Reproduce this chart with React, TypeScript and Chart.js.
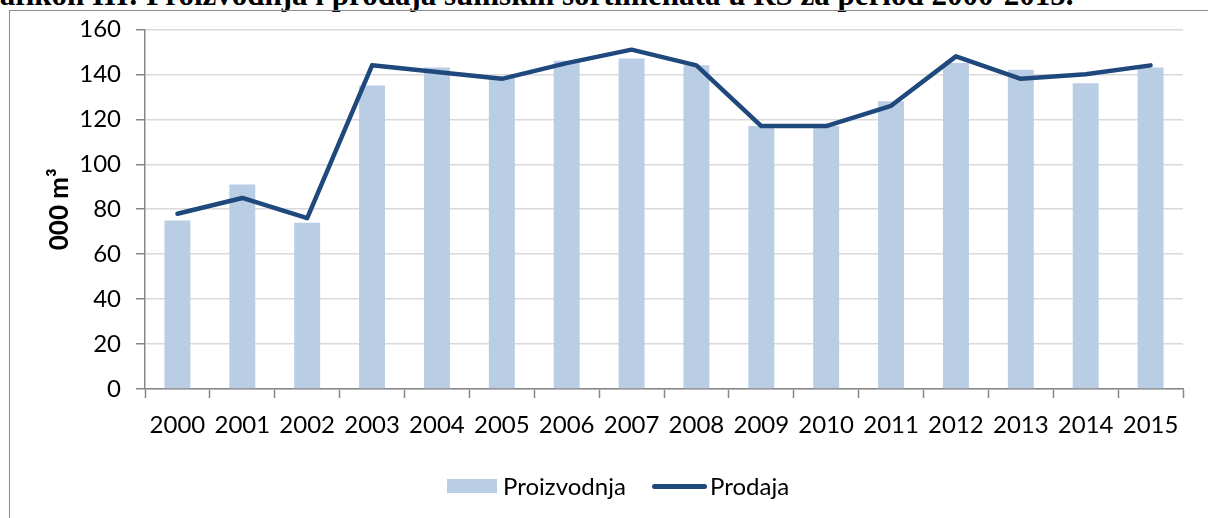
import React, { useEffect, useRef } from "react";
import { Chart, registerables } from "chart.js";

Chart.register(...registerables);

const categories = ["2000", "2001", "2002", "2003", "2004", "2005", "2006", "2007", "2008", "2009", "2010", "2011", "2012", "2013", "2014", "2015"];
const proizvodnja = [75, 91, 74, 135, 143, 139, 146, 147, 144, 117, 117, 128, 145, 142, 136, 143];
const prodaja = [78, 85, 76, 144, 141, 138, 145, 151, 144, 117, 117, 126, 148, 138, 140, 144];
const yTicks = [0, 20, 40, 60, 80, 100, 120, 140, 160];
const seriesNames = ["Proizvodnja", "Prodaja"];

const TITLE = "Grafikon III: Proizvodnja i prodaja šumskih sortimenata u RS za period 2000-2015.";
const BAR_COLOR = "#B9CDE5";
const LINE_COLOR = "#1F497D";
const AXIS_COLOR = "#868686";
const GRID_COLOR = "#d9d9d9";
const FONT = "Lato, 'Open Sans', sans-serif";

export default function App() {
  const ref = useRef<HTMLCanvasElement | null>(null);

  useEffect(() => {
    if (!ref.current) return;
    const chart = new Chart(ref.current, {
      type: "bar",
      data: {
        labels: categories,
        datasets: [
          {
            type: "bar",
            label: seriesNames[0],
            data: proizvodnja,
            backgroundColor: BAR_COLOR,
            borderWidth: 0,
            barPercentage: 0.4,
            categoryPercentage: 1,
            order: 2,
          } as any,
          {
            type: "line",
            label: seriesNames[1],
            data: prodaja,
            borderColor: LINE_COLOR,
            backgroundColor: LINE_COLOR,
            borderWidth: 4.5,
            pointRadius: 0,
            pointHoverRadius: 0,
            tension: 0,
            borderCapStyle: "round",
            borderJoinStyle: "round",
            order: 1,
          } as any,
        ],
      },
      options: {
        animation: false,
        responsive: false,
        maintainAspectRatio: false,
        layout: { padding: { left: 28, right: 25, top: 20, bottom: 69 } },
        plugins: {
          tooltip: { enabled: false },
          title: { display: false },
          legend: { display: false },
        },
        scales: {
          x: {
            offset: true,
            grid: {
              display: true,
              offset: true,
              drawOnChartArea: false,
              drawTicks: true,
              tickLength: 9,
              tickColor: AXIS_COLOR,
              tickWidth: 1.5,
            },
            border: { display: true, color: AXIS_COLOR, width: 1.5 },
            ticks: {
              color: "#000",
              padding: 13,
              maxRotation: 0,
              autoSkip: false,
              font: { family: FONT, size: 24 },
            },
            afterFit: (s: any) => {
              s.height = 60;
            },
          },
          y: {
            min: 0,
            max: 160,
            afterBuildTicks: (s: any) => {
              s.ticks = yTicks.map((v) => ({ value: v }));
            },
            grid: {
              color: GRID_COLOR,
              lineWidth: 1.5,
              drawTicks: true,
              tickLength: 9,
              tickColor: AXIS_COLOR,
              tickWidth: 1.5,
            },
            border: { display: true, color: AXIS_COLOR, width: 1.5 },
            ticks: {
              color: "#000",
              padding: 15,
              font: { family: FONT, size: 24 },
            },
            title: {
              display: true,
              text: "000 m³",
              color: "#000",
              padding: { top: 16, bottom: 0 },
              font: { family: FONT, size: 26, weight: "bold" },
            },
            afterFit: (s: any) => {
              s.width = 117;
            },
          },
        },
      },
    });
    return () => chart.destroy();
  }, []);

  const legendText: React.CSSProperties = {
    position: "absolute",
    top: 486 - 15,
    height: 30,
    lineHeight: "30px",
    fontFamily: FONT,
    fontSize: 24,
    color: "#000",
    whiteSpace: "nowrap",
  };

  return (
    <div
      style={{
        position: "fixed",
        left: 0,
        top: 0,
        width: 1208,
        height: 518,
        overflow: "hidden",
        background: "#fff",
      }}
    >
      <div
        style={{
          position: "absolute",
          left: -38,
          top: -21,
          fontFamily: "'Liberation Serif', 'Times New Roman', serif",
          fontWeight: "bold",
          fontSize: 31,
          lineHeight: "31px",
          whiteSpace: "nowrap",
          color: "#000",
        }}
      >
        {TITLE}
      </div>
      <div
        style={{
          position: "absolute",
          left: 9,
          top: 10,
          width: 1300,
          height: 600,
          border: "1.5px solid #8c8c8c",
          boxSizing: "border-box",
        }}
      />
      <canvas
        ref={ref}
        width={1208}
        height={518}
        style={{ position: "absolute", left: 0, top: 0, width: 1208, height: 518 }}
      />
      <div style={{ position: "absolute", left: 447, top: 479, width: 50, height: 14, background: BAR_COLOR }} />
      <div style={{ ...legendText, left: 503 }}>{seriesNames[0]}</div>
      <div
        style={{
          position: "absolute",
          left: 652,
          top: 486 - 2.5,
          width: 55,
          height: 5,
          borderRadius: 2.5,
          background: LINE_COLOR,
        }}
      />
      <div style={{ ...legendText, left: 710 }}>{seriesNames[1]}</div>
    </div>
  );
}
